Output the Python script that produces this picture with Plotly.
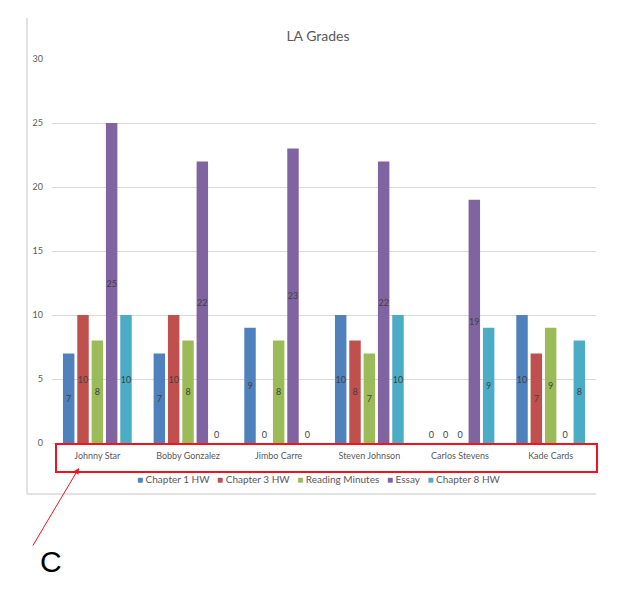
import plotly.graph_objects as go

students = ["Johnny Star", "Bobby Gonzalez", "Jimbo Carre", "Steven Johnson", "Carlos Stevens", "Kade Cards"]
chapter1_hw = [7, 7, 9, 10, 0, 10]
chapter3_hw = [10, 10, 0, 8, 0, 7]
reading_minutes = [8, 8, 8, 7, 0, 9]
essay = [25, 22, 23, 22, 19, 0]
chapter8_hw = [10, 0, 0, 10, 9, 8]
y_ticks = [0, 5, 10, 15, 20, 25, 30]

series_names = ["Chapter 1 HW", "Chapter 3 HW", "Reading Minutes", "Essay", "Chapter 8 HW"]
series_values = [chapter1_hw, chapter3_hw, reading_minutes, essay, chapter8_hw]
series_colors = ["#4F81BD", "#C0504D", "#9BBB59", "#8064A2", "#4BACC6"]

FONT = "Lato"
OFF = 8                     # page offset applied by the browser
W, H = 624 - OFF, 591 - OFF
PL, PR, PT, PB = 52, 596, 59, 443   # plot area in reference pixel coords
L, T = PL - OFF, PT - OFF
PW, PH = PR - PL, PB - PT
R, B = W - L - PW, H - T - PH


def px(x):
    return (x - PL) / PW


def py(y):
    return (PB - y) / PH


fig = go.Figure()
for name, vals, color in zip(series_names, series_values, series_colors):
    fig.add_trace(go.Bar(
        name=name, x=students, y=vals,
        marker=dict(color=color, line=dict(width=0)),
        text=[str(v) for v in vals],
        textposition=["outside" if v == 0 else "inside" for v in vals],
        insidetextanchor="middle",
        textangle=0,
        constraintext="none",
        textfont=dict(family=FONT, size=9, color="#404040"),
        cliponaxis=False,
        showlegend=False,
    ))

fig.update_layout(
    width=W, height=H,
    margin=dict(l=L, r=R, t=T, b=B, pad=0),
    paper_bgcolor="white", plot_bgcolor="white",
    barmode="group", bargap=0.21, bargroupgap=0.2,
    font=dict(family=FONT, size=9, color="#595959"),
    title=dict(text="LA Grades", x=(318 - OFF) / W, xanchor="center",
               y=1 - (36 - OFF) / H, yanchor="middle", yref="container",
               font=dict(family=FONT, size=14, color="#595959")),
    showlegend=False,
    xaxis=dict(showgrid=False, showline=True, linecolor="#D9D9D9", ticks="",
               ticklabelstandoff=4,
               tickfont=dict(family=FONT, size=9, color="#595959"), fixedrange=True),
    yaxis=dict(range=[0, 30], tickvals=y_ticks, showgrid=True, gridcolor="#D9D9D9",
               gridwidth=1, zeroline=False, showline=False, ticks="",
               ticklabelstandoff=8,
               tickfont=dict(family=FONT, size=9, color="#595959"), fixedrange=True),
)

# legend (compact, Excel-like)
legend_text = "   ".join(
    f"<span style='color:{c}'>■</span> {n}" for n, c in zip(series_names, series_colors)
)
fig.add_annotation(xref="paper", yref="paper", x=px(319), y=py(479),
                   xanchor="center", yanchor="middle", text=legend_text, showarrow=False,
                   font=dict(family=FONT, size=10, color="#595959"))

# chart frame (left and bottom edges)
fig.add_shape(type="line", xref="paper", yref="paper",
              x0=px(27), x1=px(27), y0=py(18), y1=py(494),
              line=dict(color="#D9D9D9", width=1.5))
fig.add_shape(type="line", xref="paper", yref="paper",
              x0=px(27), x1=px(596), y0=py(494), y1=py(494),
              line=dict(color="#D9D9D9", width=1.5))

# red highlight box around category labels
fig.add_shape(type="rect", xref="paper", yref="paper",
              x0=px(56), x1=px(597), y0=py(444), y1=py(472),
              line=dict(color="#F0141E", width=2), fillcolor="rgba(0,0,0,0)")

# arrow
fig.add_annotation(xref="paper", yref="paper", x=px(79), y=py(468),
                   ax=32 - 79, ay=547 - 468, axref="pixel", ayref="pixel",
                   text="", showarrow=True, arrowhead=2, arrowsize=1.2,
                   arrowwidth=1, arrowcolor="#F0141E")

fig.add_annotation(xref="paper", yref="paper", x=px(51), y=py(561),
                   xanchor="center", yanchor="middle", text="C", showarrow=False,
                   font=dict(family="Liberation Sans", size=30, color="#000000"))

fig.write_html("out.html")
